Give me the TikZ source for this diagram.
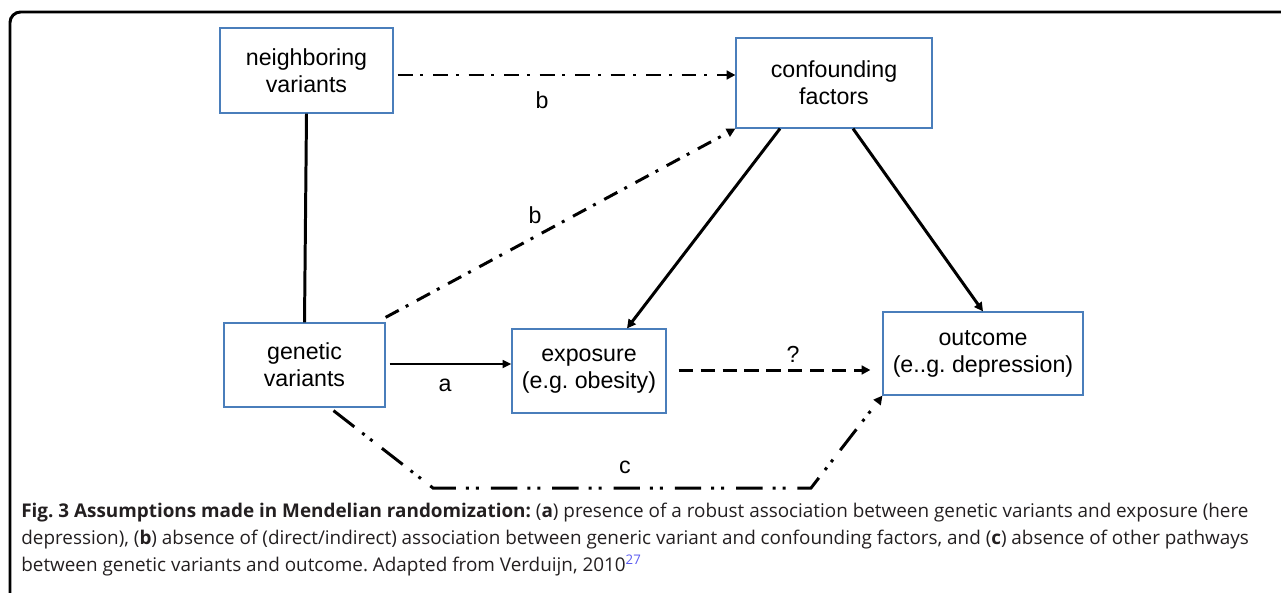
\documentclass[tikz,border=0pt]{standalone}
\usepackage{fontspec}
\setmainfont{Liberation Sans}
\newfontfamily\captionfont{Open Sans}
\usepackage{tikz}
\usetikzlibrary{arrows.meta, positioning}
\definecolor{BoxBlue}{HTML}{4A7EBB}
\definecolor{RefBlue}{HTML}{5B5BF0}
\definecolor{CapText}{HTML}{231F20}
\tikzset{
  varbox/.style={rectangle, draw=BoxBlue, line width=0.7pt, fill=white, align=center, font=\fontsize{13.2}{15.3}\selectfont, inner sep=2pt},
  solidline/.style={line width=1.7pt},
  arrow/.style={-{Triangle[length=5pt,width=5pt]}, line width=1.7pt},
  thinarrow/.style={-{Triangle[length=5pt,width=4.5pt]}, line width=1.1pt},
  dashdotarrow/.style={arrow, dash pattern=on 8.5pt off 4.5pt on 1.7pt off 5.5pt},
  dashdotdotarrow/.style={arrow, dash pattern=on 15pt off 5.7pt on 1.7pt off 4pt on 1.7pt off 6.8pt},
  dashedarrow/.style={arrow, dash pattern=on 8pt off 4.5pt},
  edgelabel/.style={font=\fontsize{13.2}{15.3}\selectfont, inner sep=0pt}
}
\frenchspacing

\begin{document}
\begin{tikzpicture}[x=0.02cm, y=-0.02cm]
  \useasboundingbox (0,0) rectangle (1281,592);
  % Outer frame
  \draw[line width=1.7pt, rounded corners=6pt] (1300,12) -- (10,12) -- (10,610);

  % Variables
  \node[varbox, minimum width=3.46cm, minimum height=1.70cm] (nbr) at (306.5,70.5) {neighboring\\variants};
  \node[varbox, minimum width=3.92cm, minimum height=1.80cm] (conf) at (834,83) {confounding\\factors};
  \node[varbox, minimum width=3.22cm, minimum height=1.68cm] (gen) at (304.5,365) {genetic\\variants};
  \node[varbox, minimum width=3.08cm, minimum height=1.68cm] (expo) at (589,371) {exposure\\(e.g. obesity)};
  \node[varbox, minimum width=4.00cm, minimum height=1.66cm] (outc) at (983,353.5) {outcome\\(e..g. depression)};

  % Corners of pathway c
  \coordinate (cleft) at (433,488);
  \coordinate (cright) at (811,488);

  % Connectors
  \draw[solidline] (nbr.south) -- (gen.north);
  \draw[dashdotarrow] (nbr.east |- 0,75) ++(4,0) -- (conf.west |- 0,75);
  \draw[dashdotarrow] (gen.north east) ++(0,-5) -- (conf.south west);
  \draw[arrow] ([xshift=-1.08cm]conf.south) -- ([xshift=0.76cm]expo.north);
  \draw[arrow] ([xshift=0.38cm]conf.south) -- (outc.north);
  \draw[thinarrow] ([xshift=0.08cm]gen.east |- 0,364) -- (expo.west |- 0,364);
  \draw[dashedarrow] ([xshift=0.24cm]expo.east |- 0,370) -- ([xshift=-0.24cm]outc.west |- 0,370);
  \draw[dashdotdotarrow] ([xshift=0.58cm]gen.south) ++(0,3) -- (cleft) -- (cright) -- (outc.south west);

  % Labels
  \node[edgelabel] (lb1) at (542,100) {b};
  \node[edgelabel] (lb2) at (535,215) {b};
  \node[edgelabel] (la) at (445,385) {a};
  \node[edgelabel] (lq) at (793,354) {?};
  \node[edgelabel] (lc) at (625,467) {c};

  % Caption
  \node[anchor=north west, align=left, inner sep=0pt, text=CapText,
        font=\captionfont\fontsize{10.75}{15.3}\selectfont] (caption) at (21,503)
  {\textbf{Fig. 3 Assumptions made in Mendelian randomization:} (\textbf{a}) presence of a robust association between genetic variants and exposure (here\\
   depression), (\textbf{b}) absence of (direct/indirect) association between generic variant and confounding factors, and (\textbf{c}) absence of other pathways\\
   between genetic variants and outcome. Adapted from Verduijn, 2010\textsuperscript{\textcolor{RefBlue}{27}}};
\end{tikzpicture}
\end{document}
